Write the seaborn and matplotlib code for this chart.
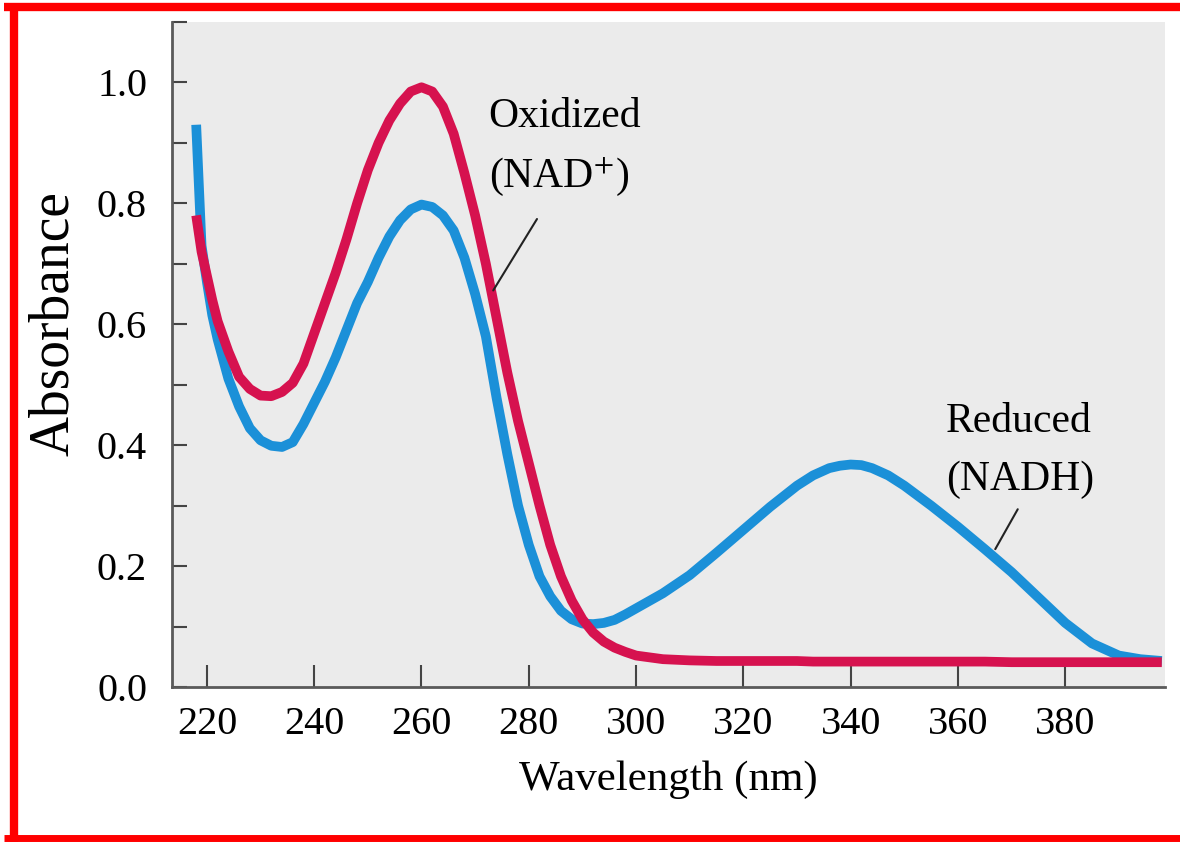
import matplotlib
matplotlib.use("Agg")
import matplotlib.pyplot as plt
from matplotlib.lines import Line2D
from matplotlib.ticker import MultipleLocator
import seaborn as sns
import pandas as pd

# absorbance spectra
wavelength = [218, 219, 220, 221, 222, 224, 226, 228, 230, 232, 234, 236, 238, 240,
              242, 244, 246, 248, 250, 252, 254, 256, 258, 260, 262, 264, 266, 268,
              270, 272, 274, 276, 278, 280, 282, 284, 286, 288, 290, 292, 294, 296,
              298, 300, 305, 310, 315, 320, 325, 330, 333, 336, 338, 340, 342, 344,
              347, 350, 355, 360, 365, 370, 375, 380, 385, 390, 394, 398]
oxidized = [0.78, 0.72, 0.68, 0.64, 0.605, 0.555, 0.513, 0.493, 0.482, 0.481, 0.488,
            0.503, 0.535, 0.585, 0.635, 0.685, 0.74, 0.80, 0.855, 0.90, 0.937, 0.965,
            0.985, 0.992, 0.985, 0.96, 0.915, 0.85, 0.78, 0.70, 0.61, 0.52, 0.44, 0.37,
            0.30, 0.235, 0.183, 0.143, 0.112, 0.09, 0.075, 0.065, 0.058,
            0.052, 0.046, 0.044, 0.043, 0.043, 0.043, 0.043,
            0.042, 0.042, 0.042, 0.042, 0.042, 0.042, 0.042,
            0.042, 0.042, 0.042, 0.042,
            0.041, 0.041, 0.041, 0.041, 0.041, 0.041, 0.041]
reduced = [0.93, 0.73, 0.67, 0.615, 0.575, 0.51, 0.464, 0.428, 0.408, 0.399, 0.397,
           0.405, 0.435, 0.47, 0.505, 0.545, 0.59, 0.635, 0.67, 0.71, 0.745, 0.772,
           0.79, 0.798, 0.794, 0.78, 0.755, 0.71, 0.65, 0.58, 0.478, 0.385, 0.30, 0.235,
           0.183, 0.15, 0.126, 0.112, 0.105, 0.104, 0.106, 0.111, 0.12,
           0.13, 0.155, 0.185, 0.222, 0.26, 0.298, 0.333,
           0.350, 0.362, 0.366, 0.368, 0.367, 0.362, 0.350,
           0.333, 0.30, 0.265, 0.228,
           0.19, 0.148, 0.106, 0.072, 0.052, 0.046, 0.043]
x_ticks = [220, 240, 260, 280, 300, 320, 340, 360, 380]
y_ticks = [0.0, 0.2, 0.4, 0.6, 0.8, 1.0]

df = pd.DataFrame({
    "Wavelength": wavelength + wavelength,
    "Absorbance": reduced + oxidized,
    "Form": ["Reduced"] * len(wavelength) + ["Oxidized"] * len(wavelength),
})

sns.set_style("ticks")
plt.rcParams["font.family"] = ["Liberation Serif", "DejaVu Serif"]
plt.rcParams["mathtext.fontset"] = "stix"
plt.rcParams["text.color"] = "black"
plt.rcParams["xtick.labelcolor"] = "black"
plt.rcParams["ytick.labelcolor"] = "black"
plt.rcParams["axes.labelcolor"] = "black"

fig = plt.figure(figsize=(11.8, 8.42), dpi=100)
ax = fig.add_axes([0.1458, 0.1841, 0.8415, 0.7898])
ax.set_facecolor("#ebebeb")

sns.lineplot(data=df, x="Wavelength", y="Absorbance", hue="Form",
             hue_order=["Reduced", "Oxidized"],
             palette={"Reduced": "#1b90d8", "Oxidized": "#d6124f"},
             linewidth=7, legend=False, ax=ax,
             solid_capstyle="butt", solid_joinstyle="round")

ax.set_xlim(213.5, 398.6)
ax.set_ylim(0, 1.1)
ax.set_xticks(x_ticks)
ax.set_yticks(y_ticks)
ax.set_yticklabels([f"{v:.1f}" for v in y_ticks])
ax.yaxis.set_minor_locator(MultipleLocator(0.1))

for side in ["top", "right"]:
    ax.spines[side].set_visible(False)
for side in ["left", "bottom"]:
    ax.spines[side].set_color("#5a5a5a")
    ax.spines[side].set_linewidth(2)

ax.tick_params(axis="x", direction="in", length=16, width=1.5, color="#444444",
               labelsize=29, pad=14)
ax.tick_params(axis="y", which="both", direction="in", length=11, width=1.5,
               color="#444444", labelsize=29, pad=18)

ax.set_xlabel("Wavelength (nm)", fontsize=31, labelpad=12)
ax.set_ylabel("Absorbance", fontsize=40)
ax.yaxis.set_label_coords(-0.093, 0.547)

ax.text(272.5, 0.975, "Oxidized", fontsize=30, ha="left", va="top")
ax.text(272.5, 0.88, "(NAD$^{+}$)", fontsize=30, ha="left", va="top")
ax.text(357.8, 0.47, "Reduced", fontsize=30, ha="left", va="top")
ax.text(357.8, 0.375, "(NADH)", fontsize=30, ha="left", va="top")

ax.annotate("", xy=(273.1, 0.652), xytext=(281.8, 0.778),
            arrowprops=dict(arrowstyle="-", color="#222222", lw=1.5))
ax.annotate("", xy=(366.7, 0.224), xytext=(371.4, 0.298),
            arrowprops=dict(arrowstyle="-", color="#222222", lw=1.5))

# red frame around the picture
fig.add_artist(Line2D([0.003, 1.0], [0.9917, 0.9917], color="red", lw=6, solid_capstyle="butt"))
fig.add_artist(Line2D([0.0115, 0.0115], [0.0, 0.996], color="red", lw=6, solid_capstyle="butt"))
fig.add_artist(Line2D([0.003, 1.0], [0.0042, 0.0042], color="red", lw=5, solid_capstyle="butt"))

fig.savefig("out.png", dpi=100)
